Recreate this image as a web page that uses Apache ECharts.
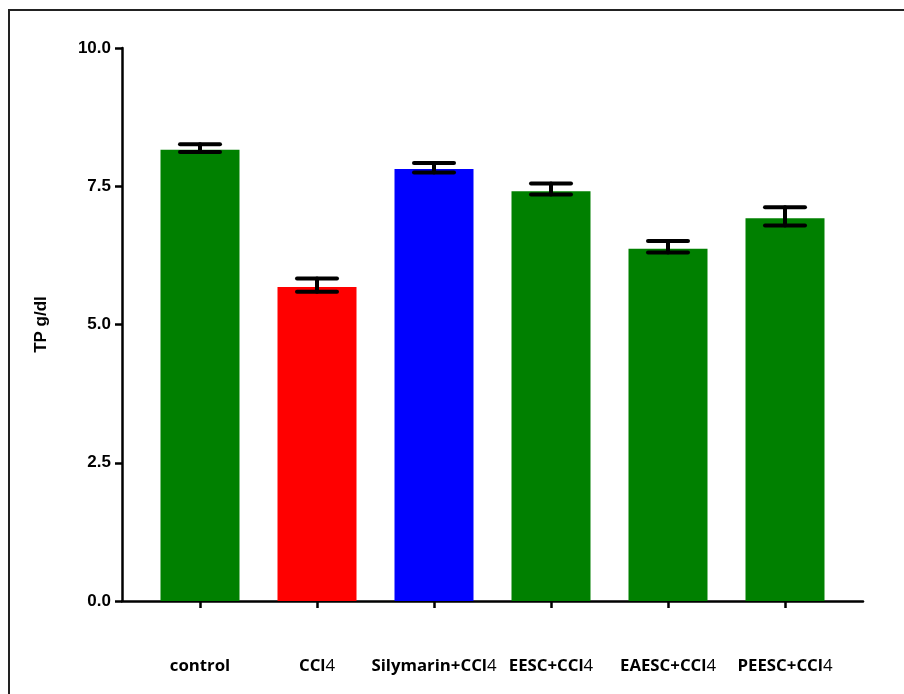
<!DOCTYPE html>
<html>
<head>
<meta charset="utf-8">
<script src="https://cdn.jsdelivr.net/npm/echarts@6/dist/echarts.min.js"></script>
<style>html,body{margin:0;padding:0;background:#fff;}#c{width:904px;height:694px;}</style>
</head>
<body>
<div id="c"></div>
<script>
const categories = ['control', 'CCl4', 'Silymarin+CCl4', 'EESC+CCl4', 'EAESC+CCl4', 'PEESC+CCl4'];
const means = [8.16, 5.68, 7.81, 7.41, 6.37, 6.92];
const errHigh = [8.26, 5.83, 7.92, 7.55, 6.51, 7.12];
const errLow = [8.12, 5.59, 7.75, 7.35, 6.30, 6.79];
const barColors = ['#008000', '#FF0000', '#0000FF', '#008000', '#008000', '#008000'];
const yTicks = [0, 2.5, 5, 7.5, 10];
const yTitle = 'TP g/dl';

const chart = echarts.init(document.getElementById('c'), null, {renderer: 'canvas'});

function fmtCat(name) {
  const i = name.indexOf('CCl4');
  if (i < 0) return '{b|' + name + '}';
  return '{b|' + name.slice(0, i) + 'CCl}{n|4}';
}

const option = {
  animation: false,
  backgroundColor: '#fff',
  graphic: [{
    type: 'rect',
    shape: {x: 9, y: 10, width: 1200, height: 1200},
    style: {fill: 'none', stroke: '#222', lineWidth: 2},
    silent: true, z: -1
  }],
  grid: {left: 122, top: 48, right: 41, bottom: 93, containLabel: false},
  xAxis: {
    type: 'value',
    min: -2/3,
    max: 17/3,
    splitLine: {show: false},
    axisLine: {show: true, onZero: false, lineStyle: {color: '#000', width: 2.5}},
    axisTick: {show: true, customValues: categories.map((c, i) => i), length: 7, inside: false,
      lineStyle: {color: '#000', width: 2.5}},
    axisLabel: {
      show: true,
      customValues: categories.map((c, i) => i),
      margin: 57,
      formatter: v => fmtCat(categories[Math.round(v)]),
      rich: {
        b: {fontFamily: 'Open Sans', fontWeight: 'bold', fontSize: 16.8, color: '#000'},
        n: {fontFamily: 'Open Sans', fontWeight: 'normal', fontSize: 16.8, color: '#000'}
      }
    }
  },
  yAxis: {
    type: 'value',
    min: 0, max: 10, interval: 2.5,
    name: yTitle,
    nameLocation: 'middle',
    nameGap: 72,
    nameTextStyle: {fontFamily: 'Liberation Sans', fontWeight: 'bold', fontSize: 17, color: '#000'},
    splitLine: {show: false},
    axisLine: {show: true, onZero: false, lineStyle: {color: '#000', width: 2.5}},
    axisTick: {show: true, length: 7, lineStyle: {color: '#000', width: 2.5}},
    axisLabel: {
      margin: 11,
      fontFamily: 'Liberation Sans', fontWeight: 'bold', fontSize: 17, color: '#000',
      formatter: v => v.toFixed(1)
    }
  },
  series: [
    {
      type: 'bar',
      barWidth: 79,
      data: means.map((m, i) => ({value: [i, m], itemStyle: {color: barColors[i]}})),
      z: 2
    },
    {
      type: 'custom',
      z: 5,
      data: means.map((m, i) => [i, errHigh[i], errLow[i]]),
      renderItem: function (params, api) {
        const x = api.value(0);
        const hi = api.coord([x, api.value(1)]);
        const lo = api.coord([x, api.value(2)]);
        const half = 20;
        const st = {stroke: '#000', lineWidth: 4, lineCap: 'round'};
        return {
          type: 'group',
          children: [
            {type: 'line', shape: {x1: hi[0], y1: hi[1], x2: lo[0], y2: lo[1]}, style: st},
            {type: 'line', shape: {x1: hi[0] - half, y1: hi[1], x2: hi[0] + half, y2: hi[1]}, style: st},
            {type: 'line', shape: {x1: lo[0] - half, y1: lo[1], x2: lo[0] + half, y2: lo[1]}, style: st}
          ]
        };
      }
    }
  ]
};
chart.setOption(option);
</script>
</body>
</html>
